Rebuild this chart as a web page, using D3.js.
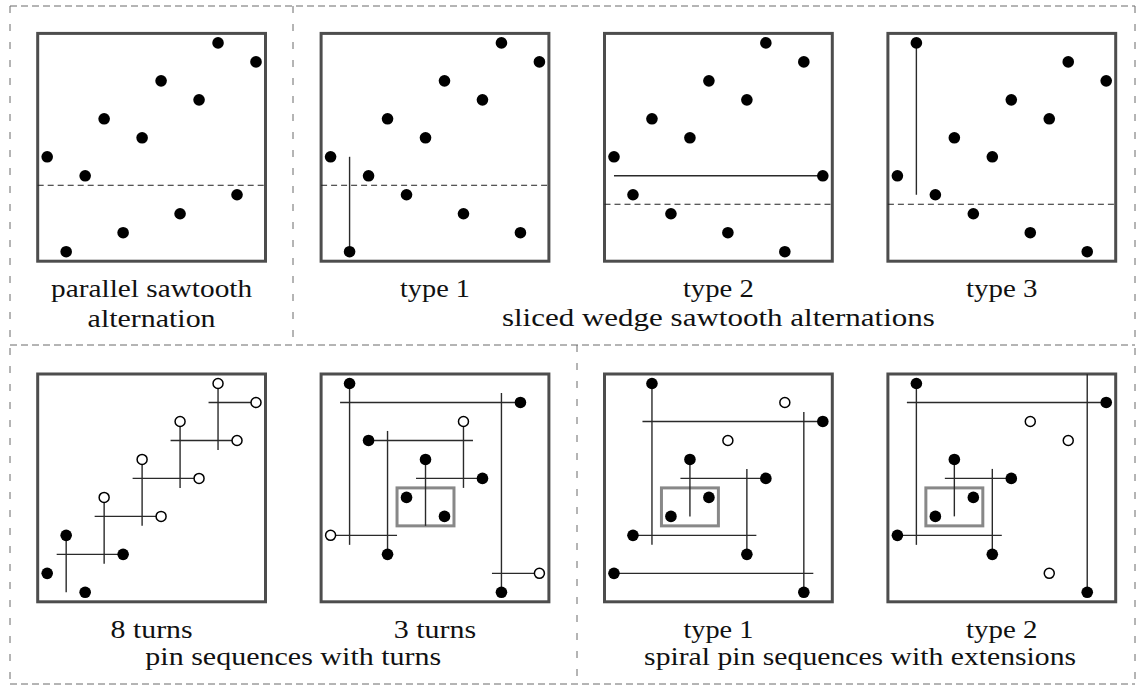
<!DOCTYPE html>
<html><head><meta charset="utf-8">
<script src="https://cdn.jsdelivr.net/npm/d3@7"></script>
<style>body{margin:0;background:#fff}svg{display:block}
.lbl{font-family:"Liberation Serif","Times New Roman",serif;font-size:26px;fill:#111}</style>
</head><body>
<svg id="c" width="1140" height="686"></svg>
<script>
// ---------- data (grid coords: x = column 1..12 from left, y = row 1..12 from bottom) ----------
// top row: sawtooth alternations (all filled points)
const parallelPts = [[1,6],[2,1],[3,5],[4,8],[5,2],[6,7],[7,10],[8,3],[9,9],[10,12],[11,4],[12,11]];
const wedge1Pts   = [[1,6],[2,1],[3,5],[4,8],[5,4],[6,7],[7,10],[8,3],[9,9],[10,12],[11,2],[12,11]];
const wedge2Pts   = [[1,6],[2,4],[3,8],[4,3],[5,7],[6,10],[7,2],[8,9],[9,12],[10,1],[11,11],[12,5]];
const wedge3Pts   = [[1,5],[2,12],[3,4],[4,7],[5,3],[6,6],[7,9],[8,2],[9,8],[10,11],[11,1],[12,10]];
const parallelCut = 4.5, wedge1Cut = 4.5, wedge2Cut = 3.5, wedge3Cut = 3.5;
const parallelSeg = [];
const wedge1Seg = [[2,1,2,6]];
const wedge2Seg = [[1,5,12,5]];
const wedge3Seg = [[2,12,2,4]];

// bottom row: pin sequences ([x, y, open?])
const turns8Pts = [[1,2,0],[2,4,0],[3,1,0],[5,3,0],[4,6,1],[7,5,1],[6,8,1],[9,7,1],[8,10,1],[11,9,1],[10,12,1],[12,11,1]];
const turns8Seg = [[2,4,2,1],[1.5,3,5,3],[4,6,4,2.5],[3.5,5,7,5],[6,8,6,4.5],[5.5,7,9,7],[8,10,8,6.5],[7.5,9,11,9],[10,12,10,8.5],[9.5,11,12,11]];
const turns8Rect = null;

const turns3Pts = [[2,12,0],[11,11,0],[8,10,1],[3,9,0],[6,8,0],[9,7,0],[5,6,0],[7,5,0],[1,4,1],[4,3,0],[12,2,1],[10,1,0]];
const turns3Seg = [[6,8,6,4.5],[5.5,7,9,7],[8,10,8,6.5],[3,9,8.5,9],[4,9.5,4,3],[1,4,4.5,4],[2,12,2,3.5],[1.5,11,11,11],[10,11.5,10,1],[9.5,2,12,2]];
const turns3Rect = [4.5,7.5,4.5,6.5];

const spiral1Pts = [[3,12,0],[10,11,1],[12,10,0],[7,9,1],[5,8,0],[9,7,0],[6,6,0],[4,5,0],[2,4,0],[8,3,0],[1,2,0],[11,1,0]];
const spiral1Seg = [[5,8,5,5],[4.5,7,9,7],[8,7.5,8,3],[2,4,8.5,4],[3,12,3,3.5],[2.5,10,12,10],[11,10.5,11,1],[1,2,11.5,2]];
const spiral1Rect = [3.5,6.5,4.5,6.5];

const spiral2Pts = [[2,12,0],[12,11,0],[8,10,1],[10,9,1],[4,8,0],[7,7,0],[5,6,0],[3,5,0],[1,4,0],[6,3,0],[9,2,1],[11,1,0]];
const spiral2Seg = [[4,8,4,5],[3.5,7,7,7],[6,7.5,6,3],[1,4,6.5,4],[2,12,2,3.5],[1.5,11,12,11],[11,12.5,11,1]];
const spiral2Rect = [2.5,5.5,4.5,6.5];

// labels
const topLabels = [["parallel sawtooth","alternation"],["type 1"],["type 2"],["type 3"]];
const topGroupLabel = "sliced wedge sawtooth alternations";
const bottomLabels = ["8 turns","3 turns","type 1","type 2"];
const bottomGroupLabels = ["pin sequences with turns","spiral pin sequences with extensions"];

// ---------- drawing ----------
const svg = d3.select("#c");
const BOX = 227.8;
const colLeft = d3.scaleLinear().domain([0,3]).range([37.7, 887.9]);
const rowTop = d3.scaleLinear().domain([0,1]).range([33.4, 374]);

// dashed frames
const frame = svg.append("g").attr("fill","none").attr("stroke","#6a6a6a").attr("stroke-width",1);
frame.append("line").attr("x1",10).attr("x2",1135).attr("y1",6).attr("y2",6).attr("stroke-dasharray","7,4");
frame.append("line").attr("x1",10).attr("x2",1135).attr("y1",684).attr("y2",684).attr("stroke-dasharray","7,4");
frame.append("line").attr("x1",10).attr("x2",1135).attr("y1",345).attr("y2",345).attr("stroke-dasharray","7,4");
frame.append("line").attr("x1",10).attr("x2",10).attr("y1",6).attr("y2",684).attr("stroke-dasharray","7,11");
frame.append("line").attr("x1",1135).attr("x2",1135).attr("y1",6).attr("y2",684).attr("stroke-dasharray","7,11");
frame.append("line").attr("x1",293).attr("x2",293).attr("y1",6).attr("y2",345).attr("stroke-dasharray","7,11");
frame.append("line").attr("x1",577).attr("x2",577).attr("y1",345).attr("y2",684).attr("stroke-dasharray","7,11");

function panel(col,row,pts,segs,opts){
  const left = colLeft(col), top = rowTop(row);
  const x = d3.scaleLinear().domain([0.5,12.5]).range([left,left+BOX]);
  const y = d3.scaleLinear().domain([0.5,12.5]).range([top+BOX,top]);
  const g = svg.append("g");
  g.append("rect").attr("x",left).attr("y",top).attr("width",BOX).attr("height",BOX)
    .attr("fill","#fff").attr("stroke","#4d4d4d").attr("stroke-width",3);
  if(opts.cut!=null){
    g.append("line").attr("x1",x(0.5)).attr("x2",x(12.5)).attr("y1",y(opts.cut)).attr("y2",y(opts.cut))
      .attr("stroke","#222").attr("stroke-width",1).attr("stroke-dasharray","6,4");
  }
  if(opts.rect){
    const r = opts.rect;
    g.append("rect").attr("x",x(r[0])).attr("y",y(r[3])).attr("width",x(r[1])-x(r[0])).attr("height",y(r[2])-y(r[3]))
      .attr("fill","none").attr("stroke","#888").attr("stroke-width",3);
  }
  g.selectAll("line.seg").data(segs).join("line").attr("class","seg")
    .attr("x1",d=>x(d[0])).attr("y1",d=>y(d[1])).attr("x2",d=>x(d[2])).attr("y2",d=>y(d[3]))
    .attr("stroke","#2a2a2a").attr("stroke-width",1.4);
  g.selectAll("circle").data(pts).join("circle")
    .attr("cx",d=>x(d[0])).attr("cy",d=>y(d[1]))
    .attr("r",d=>d[2]?5:5.8)
    .attr("fill",d=>d[2]?"#fff":"#000")
    .attr("stroke","#000").attr("stroke-width",d=>d[2]?1.5:0);
}

panel(0,0,parallelPts.map(p=>[p[0],p[1],0]),parallelSeg,{cut:parallelCut});
panel(1,0,wedge1Pts.map(p=>[p[0],p[1],0]),wedge1Seg,{cut:wedge1Cut});
panel(2,0,wedge2Pts.map(p=>[p[0],p[1],0]),wedge2Seg,{cut:wedge2Cut});
panel(3,0,wedge3Pts.map(p=>[p[0],p[1],0]),wedge3Seg,{cut:wedge3Cut});
panel(0,1,turns8Pts,turns8Seg,{rect:turns8Rect});
panel(1,1,turns3Pts,turns3Seg,{rect:turns3Rect});
panel(2,1,spiral1Pts,spiral1Seg,{rect:spiral1Rect});
panel(3,1,spiral2Pts,spiral2Seg,{rect:spiral2Rect});

// text
const txt = svg.append("g").attr("text-anchor","middle");
function label(s,cx,base,w){
  const t = txt.append("text").attr("class","lbl").attr("x",cx).attr("y",base).text(s);
  if(w) t.attr("textLength",w).attr("lengthAdjust","spacingAndGlyphs");
}
const cx = i => colLeft(i)+BOX/2;
const topW = [[201,128],[70],[71],[71.5]];
topLabels.forEach((ls,i)=>ls.forEach((s,j)=>label(s,cx(i),297+j*30,topW[i][j])));
label(topGroupLabel,(cx(1)+cx(3))/2,326,433);
const botW = [82,82.5,70,71.5];
bottomLabels.forEach((s,i)=>label(s,cx(i),638,botW[i]));
label(bottomGroupLabels[0],(cx(0)+cx(1))/2,665,296);
label(bottomGroupLabels[1],(cx(2)+cx(3))/2,665,432);
</script>
</body></html>
